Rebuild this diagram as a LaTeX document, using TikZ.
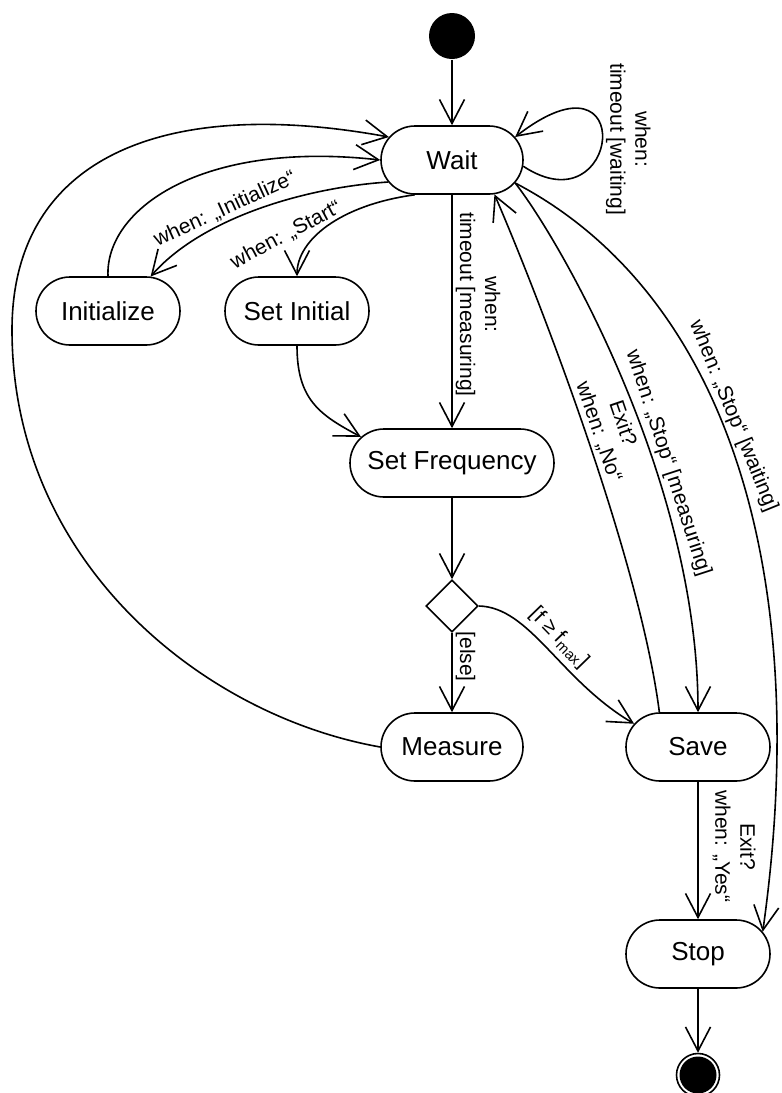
\documentclass[tikz,border=0pt]{standalone}
\usepackage{fontspec}
\setmainfont{Liberation Sans}
\usetikzlibrary{arrows.meta,shapes.geometric,shapes.misc}
\begin{document}
\begin{tikzpicture}[x=1pt,y=-1pt,
  every path/.style={line width=1.6pt},
  state/.style={rounded rectangle, draw, minimum width=144pt, minimum height=68pt, inner sep=0pt, font=\fontsize{26pt}{30pt}\selectfont},
  trans/.style={-{Straight Barb[length=24pt,width=25pt]}},
  lbl/.style={font=\fontsize{21pt}{25pt}\selectfont, align=center, inner sep=3pt}]
\useasboundingbox (0,0) rectangle (782,1093);
\node[circle, fill, minimum size=46pt, inner sep=0pt] (start) at (452,36) {};
\node[state, minimum width=142pt] (wait) at (452,160) {Wait};
\node[state] (init) at (108,311) {Initialize};
\node[state] (setinit) at (297,311) {Set Initial};
\node[state, minimum width=204pt] (setfreq) at (452,463) {Set Frequency};
\node[diamond, draw, minimum width=52pt, minimum height=52pt, inner sep=0pt] (choice) at (452,606) {};
\node[state, minimum width=142pt] (measure) at (452,747) {Measure};
\node[state] (save) at (698,747) {Save};
\node[state] (stop) at (698,954) {Stop};
\node[circle, draw, minimum size=43pt, inner sep=0pt, path picture={\fill (path picture bounding box.center) circle[radius=18.5pt];}] (final) at (698,1075) {};
\draw[trans] (start) -- (wait);
\draw[trans] (wait.-5) .. controls (620,230) and (640,40) .. node[lbl, rotate=-90, anchor=south] {when:\\timeout [waiting]} (wait.20);
\draw[trans] (wait.199) .. controls (300,188) and (200,220) .. node[lbl, sloped, above, pos=0.6] {when: „Initialize“} (init.39);
\draw[trans] (init.north) .. controls (105,210) and (200,140) .. (wait.west);
\draw[trans] (wait.223) .. controls (340,205) and (297,240) .. node[lbl, pos=0.6, xshift=-31pt, rotate=28] {when: „Start“} (setinit.north);
\draw[trans] (setinit.south) .. controls (297,400) and (320,415) .. (setfreq.164);
\draw[trans] (wait) -- node[lbl, rotate=-90, anchor=south, pos=0.47] {when:\\timeout [measuring]} (setfreq);
\draw[trans] (setfreq) -- (choice);
\draw[trans] (choice) -- node[lbl, rotate=-90, anchor=south, pos=0.3] {[else]} (measure);
\draw[trans] (choice.east) .. controls (530,607) and (560,680) .. node[lbl, sloped, above, inner sep=5pt] {[f ≥ f\textsubscript{max}]} (save.160);
\draw[trans] (measure.west) .. controls (200,715) and (12,560) .. (12,330) .. controls (12,160) and (160,95) .. (wait.160);
\draw[trans] (save.138) .. controls (640,560) and (540,300) .. node[lbl, sloped, above] {Exit?\\when: „No“} (wait.-39);
\draw[trans] (wait.-20) .. controls (560,240) and (698,480) .. node[lbl, sloped, above, pos=0.64] {when: „Stop“ [measuring]} (save.north);
\draw[trans] (wait.-20) .. controls (720,290) and (815,560) .. node[lbl, sloped, above, pos=0.45, inner sep=2pt] {when: „Stop“ [waiting]} (stop.19);
\draw[trans] (save) -- node[lbl, xshift=11pt, rotate=-90, anchor=south, pos=0.47] {Exit?\\when: „Yes“} (stop);
\draw[trans] (stop) -- (final);
\end{tikzpicture}
\end{document}
